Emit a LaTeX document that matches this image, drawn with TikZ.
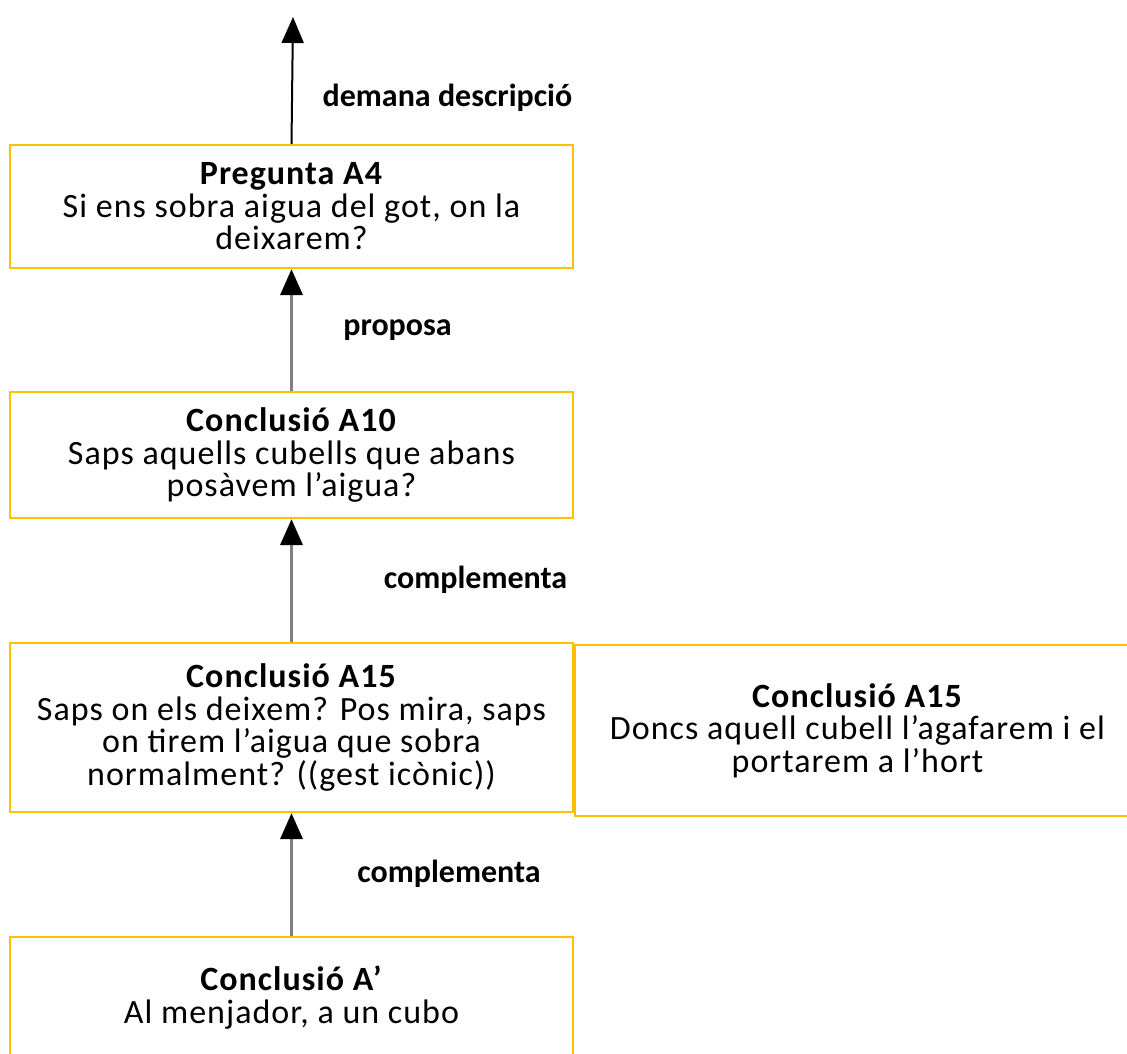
\documentclass[tikz,border=0pt]{standalone}
\usepackage{fontspec}
\setmainfont{Carlito}
\newfontfamily\boxfont[LetterSpace=3]{Carlito}
\usetikzlibrary{arrows.meta}
\definecolor{boxgold}{HTML}{FFC000}
\definecolor{linkgray}{HTML}{7F7F7F}
\begin{document}
\begin{tikzpicture}[x=1pt,y=-1pt,
  box/.style={draw=boxgold, line width=2.2pt, inner sep=0pt, align=center,
    minimum width=563pt, font=\boxfont\fontsize{34}{32.5}\selectfont},
  tip/.style={-{Triangle[width=22pt,length=26pt,black]}},
  link/.style={tip, draw=linkgray, line width=3.5pt},
  toplink/.style={tip, draw=black, line width=2pt},
  rel/.style={font=\bfseries\fontsize{32}{32.5}\selectfont, inner sep=0pt}]
  \clip (0,0) rectangle (1127,1054);
  \fill[white] (0,0) rectangle (1127,1054);

  % boxes of the chain
  \node[box, minimum height=123pt] (b1) at (291.5,206.5)
    {\textbf{Pregunta A4}\\Si ens sobra aigua del got, on la\\deixarem?};
  \node[box, minimum height=126pt] (b2) at (291.5,455)
    {\textbf{Conclusió A10}\\Saps aquells cubells que abans\\posàvem l’aigua?};
  \node[box, minimum height=169pt] (b3) at (291.5,727.5)
    {\textbf{Conclusió A15}\\Saps on els deixem? Pos mira, saps\\on tirem l’aigua que sobra\\normalment? ((gest icònic))};
  \node[box, minimum width=565pt, minimum height=171pt] (b4) at (857.5,730.5)
    {\textbf{Conclusió A15}\\Doncs aquell cubell l’agafarem i el\\portarem a l’hort};
  \node[box, minimum height=121pt] (b5) at (291.5,997.5)
    {\textbf{Conclusió A’}\\Al menjador, a un cubo};

  % open end of the top connector
  \coordinate (top) at (293,17);

  % connectors
  \draw[toplink] (b1.north) -- (top);
  \draw[link] (b2.north) -- (b1.south);
  \draw[link] (b3.north) -- (b2.south);
  \draw[link] (b5.north) -- (b3.south);

  % relation labels
  \node[rel] (l1) at (447.5,98) {demana descripció};
  \node[rel] (l2) at (397.5,330) {proposa};
  \node[rel] (l3) at (475.5,580) {complementa};
  \node[rel] (l4) at (449,874) {complementa};
\end{tikzpicture}
\end{document}
